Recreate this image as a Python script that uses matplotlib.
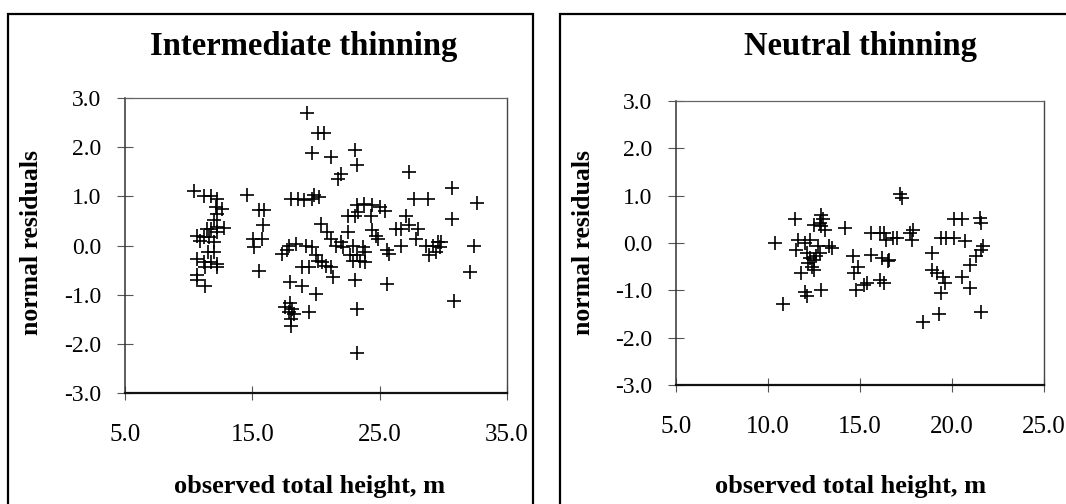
import matplotlib
matplotlib.use('Agg')
import matplotlib.pyplot as plt
from matplotlib.patches import Rectangle

# residuals vs observed total height
int_height = [10.44, 11.19, 11.72, 12.25, 12.12, 12.65, 12.25, 11.99, 11.72, 12.25,
              12.79, 11.45, 10.65, 11.19, 11.59, 10.92, 11.99, 12.25, 11.99, 11.50,
              10.65, 11.19, 11.72, 12.25, 11.32, 12.25, 10.65, 10.65, 11.27,
              14.60, 15.50, 15.90, 15.80, 15.05, 15.72, 15.10, 15.50,
              19.27, 20.12, 20.65, 19.67, 21.19, 21.93, 21.72, 18.07, 18.60, 19.05,
              19.72, 20.25, 19.85, 20.40, 20.90, 21.20, 21.60, 22.00, 22.10, 18.40,
              17.85, 17.30, 17.70, 19.20, 19.70, 19.99, 20.12, 20.50, 20.80, 21.20,
              18.90, 19.45, 21.30, 17.98, 18.90, 20.00, 19.45, 17.98, 17.60, 18.10,
              17.85, 18.25, 18.05, 18.05,
              23.05, 23.20, 23.10, 23.20, 23.20, 22.50, 22.50, 23.05, 23.30, 23.20,
              23.80, 24.30, 24.40, 25.05, 25.45, 22.90, 22.65, 23.20, 22.90, 23.45,
              23.85, 23.70, 23.85, 24.40, 24.70, 24.90, 25.60, 25.70, 25.60, 26.25,
              26.65, 27.05, 27.30, 28.00, 26.65, 27.85, 27.30, 27.70, 28.80, 28.65,
              29.20, 29.60, 29.85, 28.90, 29.45, 29.70, 30.65, 30.65, 30.80, 32.10,
              32.40, 32.65]
int_resid = [1.10, 1.01, 1.01, 0.95, 0.78, 0.75, 0.65, 0.51, 0.34, 0.37,
             0.35, 0.34, 0.20, 0.17, 0.17, 0.10, 0.07, 0.27, -0.14, -0.14,
             -0.27, -0.34, -0.34, -0.37, -0.44, -0.44, -0.61, -0.71, -0.82,
             1.02, 0.73, 0.73, 0.41, 0.14, 0.14, -0.03, -0.51,
             2.69, 2.28, 2.28, 1.89, 1.80, 1.46, 1.36, 0.95, 0.95, 0.92,
             0.95, 0.99, 1.02, 0.44, 0.27, 0.14, 0.00, 0.07, -0.03, 0.03,
             0.00, -0.17, -0.10, 0.00, -0.03, -0.20, -0.31, -0.34, -0.41, -0.44,
             -0.44, -0.44, -0.65, -0.75, -0.82, -0.99, -1.36, -1.16, -1.26, -1.29,
             -1.36, -1.39, -1.50, -1.63,
             1.94, 1.63, -0.71, -1.29, -2.18, 0.27, 0.61, 0.61, 0.68, 0.82,
             0.85, 0.61, 0.82, 0.78, 0.71, 0.00, -0.20, -0.20, -0.31, -0.31,
             -0.34, -0.03, -0.14, 0.31, 0.20, 0.14, -0.10, -0.17, -0.78, 0.34,
             0.34, 0.61, 0.41, 0.34, 0.00, 0.14, 1.50, 0.95, 0.95, 0.00,
             0.00, 0.07, 0.07, -0.20, -0.14, -0.03, 1.16, 0.54, -1.12, -0.54,
             0.00, 0.87]

neu_height = [10.38, 10.81, 11.45, 11.64, 11.54, 12.00, 11.82, 12.00, 12.10, 12.28,
              12.10, 12.30, 12.50, 12.20, 12.40, 12.60, 12.50, 12.70, 12.80, 12.90,
              13.00, 12.80, 13.10, 12.90, 12.50, 13.30, 13.50, 12.90, 14.20, 14.60,
              14.70, 14.90, 14.80, 15.20, 15.40, 15.60, 15.60, 16.06, 16.30, 16.20,
              16.50, 16.60, 16.06, 16.30, 16.40, 16.80, 17.00, 17.20, 17.30, 17.70,
              17.90, 17.80, 18.45, 18.90, 18.90, 19.20, 19.50, 19.60, 19.40, 19.30,
              19.40, 19.65, 20.10, 20.55, 20.10, 20.70, 20.55, 21.00, 21.00, 21.30,
              21.60, 21.70, 21.50, 21.60, 21.60]
neu_resid = [0.00, -1.28, 0.50, 0.07, -0.14, 0.00, -0.64, -1.03, -1.13, 0.07,
             -0.21, -0.32, -0.35, -0.43, -0.50, -0.28, -0.57, -0.07, -0.21, 0.60,
             0.50, 0.43, 0.28, 0.35, 0.39, -0.07, -0.10, -0.99, 0.32, -0.28,
             -0.64, -0.50, -0.99, -0.89, -0.85, 0.21, -0.25, 0.21, 0.21, -0.32,
             -0.39, -0.35, -0.78, -0.85, 0.07, 0.11, 0.11, 1.03, 0.96, 0.21,
             0.28, 0.07, -1.67, -0.21, -0.57, -0.64, -0.71, -0.85, -1.06, -1.49,
             0.11, 0.11, 0.50, 0.50, 0.11, 0.04, -0.71, -0.46, -0.96, -0.28,
             -0.14, -0.07, 0.53, 0.43, -1.45]

W, H = 1066, 504
plt.rcParams['font.family'] = 'Liberation Serif'
fig = plt.figure(figsize=(W/100., H/100.), dpi=100)

def px_axes(x0, y0, x1, y1):
    # axes placed by pixel corners (top-left origin)
    return fig.add_axes([x0/W, 1 - y1/H, (x1 - x0)/W, (y1 - y0)/H])

def style(ax, xmax, xticks):
    ax.set_xlim(5, xmax)
    ax.set_ylim(-3, 3)
    ax.set_xticks(xticks)
    ax.set_yticks([-3, -2, -1, 0, 1, 2, 3])
    ax.set_xticklabels(['%.1f' % v for v in xticks])
    ax.set_yticklabels(['%.1f' % v for v in [-3, -2, -1, 0, 1, 2, 3]])
    ax.tick_params(axis='y', direction='inout', length=12, width=0.8,
                   color='#555555', pad=11, labelsize=17)
    ax.tick_params(axis='x', direction='inout', length=10, width=0.8,
                   color='#555555', pad=17, labelsize=18)
    ax.spines['bottom'].set_color('#111111')
    ax.spines['bottom'].set_linewidth(1.6)
    ax.spines['left'].set_color('#333333')
    ax.spines['left'].set_linewidth(1.1)
    ax.spines['top'].set_color('#666666')
    ax.spines['right'].set_color('#444444')
    ax.spines['top'].set_linewidth(0.9)
    ax.spines['right'].set_linewidth(1.0)

# outer frames round each panel
fig.add_artist(Rectangle((8/W, -0.05), (533 - 8)/W, 1.05 - 14/H, transform=fig.transFigure,
                         fill=False, edgecolor='black', linewidth=1.6))
fig.add_artist(Rectangle((560/W, -0.05), (1080 - 560)/W, 1.05 - 14/H, transform=fig.transFigure,
                         fill=False, edgecolor='black', linewidth=1.6))

# ----- Intermediate thinning -----
ax1 = px_axes(125, 98, 507, 393)
ax1.plot(int_height, int_resid, linestyle='none', marker='+', color='black',
         markersize=9.5, markeredgewidth=1.2)
style(ax1, 35, [5.0, 15.0, 25.0, 35.0])

# ----- Neutral thinning -----
ax2 = px_axes(676, 101, 1044, 385)
ax2.plot(neu_height, neu_resid, linestyle='none', marker='+', color='black',
         markersize=9.5, markeredgewidth=1.2)
style(ax2, 25, [5.0, 10.0, 15.0, 20.0, 25.0])

# titles and axis labels placed in pixel positions
def ftext(x, y, s, **kw):
    fig.text(x/W, 1 - y/H, s, **kw)

ftext(304, 55, 'Intermediate thinning', ha='center', va='baseline',
      fontsize=23.5, weight='bold')
ftext(860, 55, 'Neutral thinning', ha='center', va='baseline',
      fontsize=23.5, weight='bold')
ftext(32, 242, 'normal residuals', ha='center', va='center', rotation=90,
      fontsize=18.5, weight='bold')
ftext(584, 242, 'normal residuals', ha='center', va='center', rotation=90,
      fontsize=18.5, weight='bold')
ftext(310, 493, 'observed total height, m', ha='center', va='baseline',
      fontsize=19, weight='bold')
ftext(851, 493, 'observed total height, m', ha='center', va='baseline',
      fontsize=19, weight='bold')

fig.savefig('out.png', dpi=100)
